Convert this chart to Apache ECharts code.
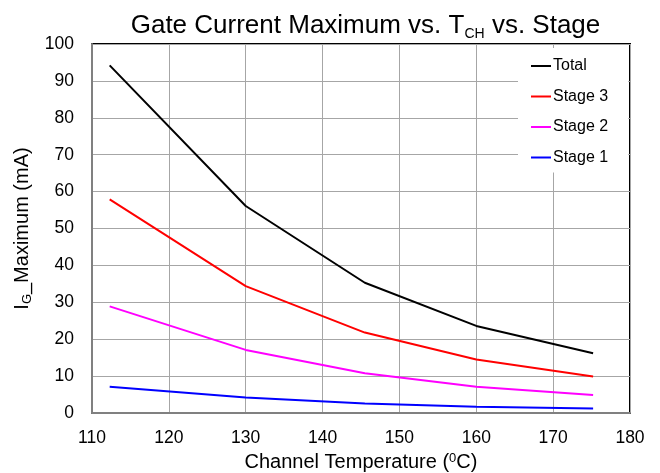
<!DOCTYPE html>
<html><head><meta charset="utf-8">
<script src="https://cdn.jsdelivr.net/npm/echarts@6/dist/echarts.min.js"></script>
<style>html,body{margin:0;padding:0;background:#fff}#c{width:660px;height:473px}</style>
</head><body><div id="c"></div>
<script>
const temps = [112.3, 130, 145.5, 160, 175.2];
const total = [94.2, 56.1, 35.3, 23.6, 16.2];
const stage3 = [57.9, 34.4, 21.8, 14.5, 9.9];
const stage2 = [28.9, 17.1, 10.8, 7.1, 4.9];
const stage1 = [7.1, 4.2, 2.6, 1.7, 1.2];
const seriesNames = ['Total', 'Stage 3', 'Stage 2', 'Stage 1'];
const seriesColors = ['#000000', '#ff0000', '#ff00ff', '#0000ff'];
const seriesData = [total, stage3, stage2, stage1];
const FONT = 'Liberation Sans, Arial, sans-serif';

const chart = echarts.init(document.getElementById('c'), null, {renderer: 'canvas'});
chart.setOption({
  animation: false,
  backgroundColor: '#fff',
  title: {
    text: '{a|Gate Current Maximum vs. T}{s|CH}{a| vs. Stage}',
    left: 360.5, top: 5, textAlign: 'center',
    textStyle: {
      rich: {
        a: {fontFamily: FONT, fontSize: 26, color: '#000', fontWeight: 'normal'},
        s: {fontFamily: FONT, fontSize: 14, color: '#000', fontWeight: 'normal', verticalAlign: 'bottom', padding: [17, 0, 0, 0]}
      }
    }
  },
  grid: {left: 92, right: 30, top: 44, bottom: 60, show: true, borderColor: '#000', borderWidth: 2,
         backgroundColor: 'transparent', containLabel: false, outerBoundsMode: 'none'},
  legend: {
    orient: 'vertical', left: 518, top: 48,
    backgroundColor: '#fff', padding: [9, 20, 6, 13],
    itemWidth: 20, itemHeight: 2, itemGap: 12.5, icon: 'rect',
    textStyle: {fontFamily: FONT, fontSize: 16, color: '#000', lineHeight: 18, padding: [0, 0, 0, -3]},
    data: seriesNames
  },
  xAxis: {
    type: 'value', min: 110, max: 180, interval: 10,
    name: '{a|Channel Temperature (}{s|0}{a|C)}',
    nameLocation: 'middle', nameGap: 38,
    nameTextStyle: {rich: {
      a: {fontFamily: FONT, fontSize: 20, color: '#000'},
      s: {fontFamily: FONT, fontSize: 13, color: '#000', verticalAlign: 'top', padding: [0, 0, 9, 0]}
    }},
    axisLine: {show: true, lineStyle: {color: '#808080', width: 2}},
    axisTick: {show: false},
    axisLabel: {fontFamily: FONT, fontSize: 17.5, color: '#000', margin: 16},
    splitLine: {show: true, lineStyle: {color: '#a6a6a6', width: 1}}
  },
  yAxis: {
    type: 'value', min: 0, max: 100, interval: 10,
    name: '{a|I}{s|G}{a|_Maximum (mA)}',
    nameLocation: 'middle', nameGap: 50, nameRotate: 90,
    nameTextStyle: {rich: {
      a: {fontFamily: FONT, fontSize: 20, color: '#000'},
      s: {fontFamily: FONT, fontSize: 13, color: '#000', verticalAlign: 'bottom', padding: [9, 0, 0, 0]}
    }},
    axisLine: {show: true, lineStyle: {color: '#808080', width: 2}},
    axisTick: {show: false},
    axisLabel: {fontFamily: FONT, fontSize: 17.5, color: '#000', margin: 18},
    splitLine: {show: true, lineStyle: {color: '#a6a6a6', width: 1}}
  },
  series: seriesNames.map((n, i) => ({
    name: n, type: 'line', symbol: 'none',
    data: temps.map((t, j) => [t, seriesData[i][j]]),
    lineStyle: {color: seriesColors[i], width: 2},
    itemStyle: {color: seriesColors[i]},
    z: 3
  }))
});
</script></body></html>
